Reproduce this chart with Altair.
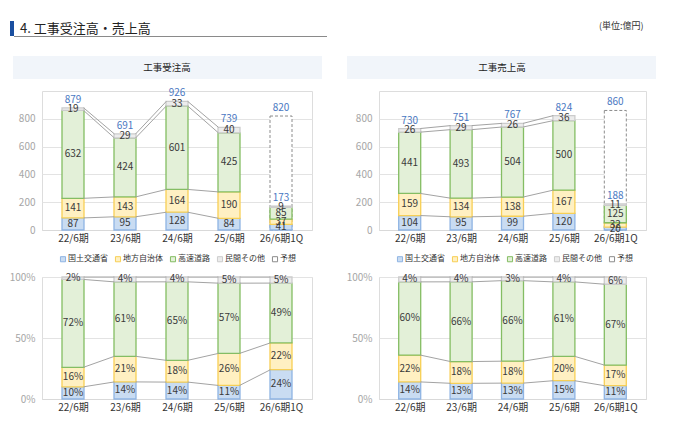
import json
import altair as alt
import pandas as pd

FONT = "Noto Sans CJK JP"

cats = ["22/6期", "23/6期", "24/6期", "25/6期", "26/6期1Q"]
series = ["国土交通省", "地方自治体", "高速道路", "民間その他"]
legend_items = series + ["予想"]

# 工事受注高 (億円)
ord_mlit = [87, 95, 128, 84, 41]
ord_local = [141, 143, 164, 190, 37]
ord_hwy = [632, 424, 601, 425, 85]
ord_priv = [19, 29, 33, 40, 9]
ord_total_labels = ["879", "691", "926", "739", "173"]
ord_forecast = 820

# 工事売上高 (億円)
sal_mlit = [104, 95, 99, 120, 20]
sal_local = [159, 134, 138, 167, 32]
sal_hwy = [441, 493, 504, 500, 125]
sal_priv = [26, 29, 26, 36, 11]
sal_total_labels = ["730", "751", "767", "824", "188"]
sal_forecast = 860

# 構成比 (%)
ord_pct_mlit = [10, 14, 14, 11, 24]
ord_pct_local = [16, 21, 18, 26, 22]
ord_pct_hwy = [72, 61, 65, 57, 49]
ord_pct_priv = [2, 4, 4, 5, 5]

sal_pct_mlit = [14, 13, 13, 15, 11]
sal_pct_local = [22, 18, 18, 20, 17]
sal_pct_hwy = [60, 66, 66, 61, 67]
sal_pct_priv = [4, 4, 3, 4, 6]

fills = ["#c9dcf2", "#fff0c2", "#e3f0d8", "#ececec", "#ffffff"]
strokes = ["#8fb4e3", "#f7cf55", "#84bd63", "#cccccc", "#8c8c8c"]

W_L, W_R = 270, 267
H_TOP, H_BOT = 139, 122
BAR = 22


def seg_df(cols, fmt, normalize):
    rows = []
    for i, c in enumerate(cats):
        vals = [col[i] for col in cols]
        tot = sum(vals) if normalize else 1
        cum = 0
        for s, v in zip(series, vals):
            y0 = cum / tot
            cum += v
            y1 = cum / tot
            rows.append(dict(idx=i, cat=c, series=s, y0=y0, y1=y1,
                             mid=(y0 + y1) / 2, label=fmt(v)))
    return pd.DataFrame(rows)


def conn_df(seg, n_pairs, hb):
    rows = []
    for i in range(n_pairs):
        a = seg[seg.idx == i].reset_index(drop=True)
        b = seg[seg.idx == i + 1].reset_index(drop=True)
        for k in range(len(series)):
            rows.append(dict(x=i + hb, x2=i + 1 - hb, y=a.y1[k], y2=b.y1[k]))
    return pd.DataFrame(rows)


label_expr = json.dumps(cats, ensure_ascii=False) + "[datum.value]"


def x_enc(width, field="idx"):
    return alt.X(f"{field}:Q",
                 scale=alt.Scale(domain=[-0.5, 4.5], nice=False, zero=False),
                 axis=alt.Axis(values=[0, 1, 2, 3, 4], labelExpr=label_expr,
                               title=None, grid=False, ticks=False,
                               domainColor="#d9d9d9", labelColor="#333333",
                               labelFontSize=10, labelFont=FONT, labelPadding=3))


def y_enc(field, domain, values, fmt=None):
    ax = dict(values=values, title=None, grid=True, gridColor="#e3e3e3",
              domain=False, ticks=False, labelColor="#a6a6a6",
              labelFontSize=10, labelFont=FONT, labelPadding=7)
    if fmt:
        ax["format"] = fmt
    return alt.Y(f"{field}:Q", scale=alt.Scale(domain=domain, nice=False),
                 axis=alt.Axis(**ax))


def legend_def():
    return alt.Legend(orient="none", legendX=17, legendY=164,
                      direction="horizontal", title=None, symbolType="square",
                      symbolSize=26, symbolStrokeWidth=1, labelFontSize=8,
                      labelFont=FONT, labelColor="#333333", columnPadding=5,
                      labelOffset=1)


def panel(cols, width, height, domain, yvals, fmt, normalize, n_pairs,
          show_legend, totals=None, forecast=None, yfmt=None, label_size=10):
    seg = seg_df(cols, fmt, normalize)
    hb = BAR / 2 / (width / 5)
    conn = conn_df(seg, n_pairs, hb)
    leg = legend_def() if show_legend else None
    layers = []
    if forecast is not None:
        fdf = pd.DataFrame([dict(idx=4, y0=0, y1=forecast, label=str(forecast))])
        layers.append(alt.Chart(fdf).mark_bar(
            size=BAR, fill="white", stroke="#8c8c8c", strokeDash=[3, 2],
            strokeWidth=1).encode(x=x_enc(width), y=y_enc("y0", domain, yvals, yfmt),
                                  y2="y1:Q"))
    bars = alt.Chart(seg).mark_bar(size=BAR, strokeWidth=1.3).encode(
        x=x_enc(width), y=y_enc("y0", domain, yvals, yfmt), y2="y1:Q",
        fill=alt.Fill("series:N", scale=alt.Scale(domain=legend_items, range=fills),
                      legend=leg, sort=legend_items),
        stroke=alt.Stroke("series:N", scale=alt.Scale(domain=legend_items, range=strokes),
                          legend=leg, sort=legend_items))
    layers.append(bars)
    layers.append(alt.Chart(conn).mark_rule(color="#a3a3a3", strokeWidth=1).encode(
        x=x_enc(width, "x"), x2="x2:Q", y=y_enc("y", domain, yvals, yfmt), y2="y2:Q"))
    layers.append(alt.Chart(seg).mark_text(
        fontSize=label_size, font=FONT, color="#3a3a3a").encode(
        x=x_enc(width), y=y_enc("mid", domain, yvals, yfmt), text="label:N"))
    if totals is not None:
        tot_rows = []
        for i in range(len(cats)):
            s = sum(col[i] for col in cols)
            tot_rows.append(dict(idx=i, y=s, label=totals[i]))
        tot_rows.append(dict(idx=4, y=forecast, label=str(forecast)))
        tdf = pd.DataFrame(tot_rows)
        layers.append(alt.Chart(tdf).mark_text(
            fontSize=10, font=FONT, color="#4a78c2", baseline="bottom", dy=-3).encode(
            x=x_enc(width), y=y_enc("y", domain, yvals, yfmt), text="label:N"))
    return layers


one = pd.DataFrame({"d": [0]})


def header(x0, x1, xc, text):
    box = alt.Chart(one).mark_rect(color="#f1f5fa").encode(
        x=alt.value(x0), x2=alt.value(x1), y=alt.value(-35), y2=alt.value(-12))
    txt = alt.Chart(one).mark_text(text=text, fontSize=9.5, font=FONT,
                                   color="#222222").encode(
        x=alt.value(xc), y=alt.value(-23.5))
    return [box, txt]


title_layers = [
    alt.Chart(one).mark_rect(color="#1a4fa0").encode(
        x=alt.value(-32), x2=alt.value(-28), y=alt.value(-70), y2=alt.value(-55)),
    alt.Chart(one).mark_rule(color="#8a8a8a", strokeWidth=1).encode(
        x=alt.value(-28), x2=alt.value(285), y=alt.value(-54.5)),
    alt.Chart(one).mark_text(text="4. 工事受注高・売上高", fontSize=13, font=FONT,
                             color="#222222", align="left", baseline="middle").encode(
        x=alt.value(-22), y=alt.value(-62.5)),
]

unit_layer = alt.Chart(one).mark_text(text="(単位:億円)", fontSize=9, font=FONT,
                                      color="#333333", align="left").encode(
    x=alt.value(220), y=alt.value(-65))

num = lambda v: str(v)
pct = lambda v: f"{v}%"

tl = alt.layer(
    *title_layers, *header(-29, 280, 125, "工事受注高"),
    *panel([ord_mlit, ord_local, ord_hwy, ord_priv], W_L, H_TOP, [0, 1000],
           [0, 200, 400, 600, 800], num, False, 3, True,
           totals=ord_total_labels, forecast=ord_forecast)
).properties(width=W_L, height=H_TOP)

tr = alt.layer(
    unit_layer, *header(-32, 277, 123, "工事売上高"),
    *panel([sal_mlit, sal_local, sal_hwy, sal_priv], W_R, H_TOP, [0, 1000],
           [0, 200, 400, 600, 800], num, False, 3, True,
           totals=sal_total_labels, forecast=sal_forecast)
).properties(width=W_R, height=H_TOP)

bl = alt.layer(
    *panel([ord_pct_mlit, ord_pct_local, ord_pct_hwy, ord_pct_priv], W_L, H_BOT,
           [0, 1], [0, 0.5, 1], pct, True, 4, False, yfmt=".0%")
).properties(width=W_L, height=H_BOT)

br = alt.layer(
    *panel([sal_pct_mlit, sal_pct_local, sal_pct_hwy, sal_pct_priv], W_R, H_BOT,
           [0, 1], [0, 0.5, 1], pct, True, 4, False, yfmt=".0%")
).properties(width=W_R, height=H_BOT)

chart = alt.concat(
    tl, tr, bl, br, columns=2, spacing={"row": 47, "column": 67},
    bounds="flush", align="each"
).resolve_scale(
    x="independent", y="independent", fill="independent", stroke="independent"
).resolve_legend(
    fill="independent", stroke="independent"
).properties(
    padding={"left": 0, "top": 12, "right": 5, "bottom": 5}
).configure_view(stroke=None).configure(font=FONT)

chart.save("out.html", embed_options={"renderer": "svg", "actions": False})
